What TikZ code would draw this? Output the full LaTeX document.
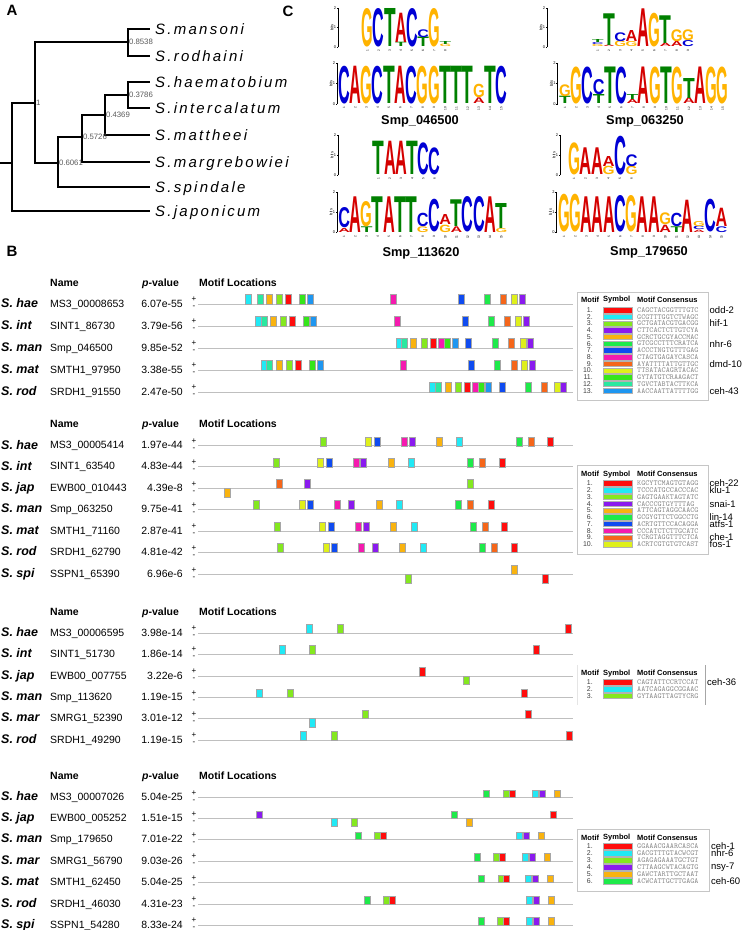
\documentclass[tikz,border=0pt]{standalone}
\usepackage{fontspec}
\setmainfont{Liberation Sans}
\usepackage{graphicx}
\usepackage{xcolor}
\usepackage{tikz}

% motif colours
\definecolor{m1}{HTML}{FF0D0D}
\definecolor{m2}{HTML}{21E9F5}
\definecolor{m3}{HTML}{84E81F}
\definecolor{m4}{HTML}{8A1AEE}
\definecolor{m5}{HTML}{F9B30F}
\definecolor{m6}{HTML}{1EEA4A}
\definecolor{m7}{HTML}{0F4BF0}
\definecolor{m8}{HTML}{F51AAF}
\definecolor{m9}{HTML}{F5661A}
\definecolor{m10}{HTML}{DFF01A}
\definecolor{m11}{HTML}{35E61A}
\definecolor{m12}{HTML}{2AE8A0}
\definecolor{m13}{HTML}{1E96F0}
% logo letters
\definecolor{ltA}{HTML}{D40000}
\definecolor{ltC}{HTML}{0000D4}
\definecolor{ltG}{HTML}{FFB300}
\definecolor{ltT}{HTML}{008000}

\newcount\nodeno

\tikzset{
  panel/.style={inner sep=0, font=\fontsize{15}{16}\selectfont\bfseries},
  branch/.style={line width=1.7pt},
  leaf/.style={anchor=west, inner xsep=5pt, inner ysep=0, text height=10.7pt, text depth=0pt,
    font=\fontsize{15}{17}\selectfont\itshape\addfontfeature{LetterSpace=15}},
  bv/.style={anchor=west, inner sep=0.8pt, font=\fontsize{7.8}{8}\selectfont, text=black!65},
  glyph/.style={anchor=south west, inner sep=0, font=\bfseries},
  lax/.style={line width=0.4pt},
  ltk/.style={anchor=east, inner sep=0, font=\fontsize{4}{4}\selectfont},
  lbt/.style={rotate=90, inner sep=0, font=\fontsize{4}{4}\selectfont},
  lps/.style={rotate=90, anchor=east, inner sep=0, font=\fontsize{3.2}{4}\selectfont},
  lname/.style={inner sep=0, font=\fontsize{12.8}{14}\selectfont\bfseries},
  hdr/.style={anchor=base west, inner sep=0, font=\fontsize{10.5}{12}\selectfont\bfseries},
  spc/.style={anchor=base west, inner sep=0, font=\fontsize{12.5}{14}\selectfont\bfseries\itshape},
  gen/.style={anchor=base west, inner sep=0, font=\fontsize{10.5}{12}\selectfont},
  pvl/.style={anchor=base east, inner sep=0, font=\fontsize{10.5}{12}\selectfont},
  strand/.style={inner sep=0, font=\fontsize{8}{9}\selectfont},
  seqline/.style={draw=gray!50, line width=0.9pt},
  site/.style={draw=black!35, line width=0.4pt},
  lframe/.style={draw=gray!45, line width=0.9pt},
  lhdr/.style={anchor=west, inner sep=0, font=\fontsize{7.5}{8}\selectfont\bfseries},
  lnum/.style={anchor=east, inner sep=0, font=\fontsize{7}{7}\selectfont, text=black!75},
  lbar/.style={draw=gray!60, line width=0.4pt},
  lcons/.style={anchor=west, inner sep=0, font=\fontsize{7.7}{8}\ttfamily, text=black!45},
  tf/.style={anchor=west, inner sep=0, font=\fontsize{9.5}{10}\selectfont}
}

% one logo letter: column, bottom y, height, letter
\newcommand{\lglyph}[4]{%
  \global\advance\nodeno by 1
  \node[glyph, name=lg\the\nodeno] at ({\lx+(#1-1)*\lc-0.4},{#2})
    {\resizebox{\lw pt}{#3pt}{\color{lt#4}#4}};}
\newcommand{\lone}[3]{\lglyph{#1}{\lb}{#2}{#3}}
\newcommand{\ltwo}[5]{\lglyph{#1}{\lb}{#2}{#3}\lglyph{#1}{\lb-#2}{#4}{#5}}
\newcommand{\lthree}[7]{\lglyph{#1}{\lb}{#2}{#3}\lglyph{#1}{\lb-#2}{#4}{#5}\lglyph{#1}{\lb-#2-#4}{#6}{#7}}

% logo axis: tag, axis x, base y, top y, columns
\newcommand{\logoaxis}[5]{%
  \draw[lax] (#2,#3) -- (#2,#4);
  \foreach \t in {0,1,2} {
    \draw[lax] (#2,{#3+(#4-#3)*\t/2}) -- ++(-1.2,0);
    \node[ltk, name=tk#1\t] at (#2-1.6,{#3+(#4-#3)*\t/2}) {\t};
  }
  \node[lbt, name=bt#1] at (#2-6,{(#3+#4)/2}) {bits};
  \foreach \i in {1,...,#5}
    \node[lps, name=ps#1\i] at ({\lx+(\i-0.5)*\lc},#3+2.8) {\i};
}

% block header: tag, y
\newcommand{\blockhead}[2]{%
  \node[hdr] (hn#1) at (50,#2+3.5) {Name};
  \node[hdr] (hp#1) at (142,#2+3.5) {\itshape p\upshape -value};
  \node[hdr] (hm#1) at (199,#2+3.5) {Motif Locations};}

% sequence row: tag, line y, species, gene, p-value
\newcommand{\seqrow}[5]{%
  \node[spc] (s#1) at (1,#2+3.4) {#3};
  \node[gen] (g#1) at (50,#2+3) {#4};
  \node[pvl] (p#1) at (183,#2+3) {#5};
  \node[strand] (u#1) at (194,#2-4.5) {+};
  \node[strand] (d#1) at (194,#2+3.5) {-};
  \draw[seqline] (198,#2) -- (573,#2);}

\newcommand{\sitesup}[2]{\foreach \x/\m in {#2}
  \filldraw[site, fill=m\m] (\x-3,#1) rectangle (\x+3,#1-\bh);}
\newcommand{\sitesdn}[2]{\foreach \x/\m in {#2}
  \filldraw[site, fill=m\m] (\x-3,#1) rectangle (\x+3,#1+\bh);}

% legend: tag, y
\newcommand{\legendhead}[2]{%
  \node[lhdr] (lm#1) at (581,#2) {Motif};
  \node[lhdr] (ls#1) at (603,#2) {Symbol};
  \node[lhdr] (lk#1) at (637,#2) {Motif Consensus};}
% legend rows: tag, first y, step, consensus list
\newcommand{\legendrows}[4]{%
  \foreach \c [count=\i] in {#4} {
    \node[lnum, name=ln#1\i] at (593,{#2+(\i-1)*#3}) {\i.};
    \filldraw[lbar, fill=m\i] (603,{#2+(\i-1)*#3-2.7}) rectangle (632,{#2+(\i-1)*#3+2.7});
    \node[lcons, name=lc#1\i] at (637,{#2+(\i-1)*#3}) {\c};
  }}

\begin{document}
\begin{tikzpicture}[x=1pt,y=-1pt]
\useasboundingbox (0,0) rectangle (742,930);

% panel letters
\node[panel] (pA) at (12,10) {A};
\node[panel] (pC) at (288,11) {C};
\node[panel] (pB) at (12,251) {B};

% tree
\coordinate (stub) at (0,163);
\coordinate (root) at (12,163);
\coordinate (n1) at (35,103);
\coordinate (n8538) at (128,42);
\coordinate (n6061) at (58,163);
\coordinate (n5726) at (82,137);
\coordinate (n4369) at (105,115);
\coordinate (n3786) at (128,95);
\node[leaf] (man) at (150,29) {S.mansoni};
\node[leaf] (rod) at (150,56) {S.rodhaini};
\node[leaf] (hae) at (150,82) {S.haematobium};
\node[leaf] (int) at (150,108) {S.intercalatum};
\node[leaf] (mat) at (150,135) {S.mattheei};
\node[leaf] (mar) at (150,162) {S.margrebowiei};
\node[leaf] (spi) at (150,187) {S.spindale};
\node[leaf] (jap) at (150,211) {S.japonicum};
\draw[branch] (stub) -- (root);
\draw[branch] (root) |- (n1);
\draw[branch] (root) |- (jap.west);
\draw[branch] (n1) |- (n8538);
\draw[branch] (n1) |- (n6061);
\draw[branch] (n8538) |- (man.west);
\draw[branch] (n8538) |- (rod.west);
\draw[branch] (n6061) |- (n5726);
\draw[branch] (n6061) |- (spi.west);
\draw[branch] (n5726) |- (n4369);
\draw[branch] (n5726) |- (mar.west);
\draw[branch] (n4369) |- (n3786);
\draw[branch] (n4369) |- (mat.west);
\draw[branch] (n3786) |- (hae.west);
\draw[branch] (n3786) |- (int.west);
\node[bv] (v1) at (n1) {1};
\node[bv] (v8538) at (n8538) {0.8538};
\node[bv] (v6061) at (n6061) {0.6061};
\node[bv] (v5726) at (n5726) {0.5726};
\node[bv] (v4369) at (n4369) {0.4369};
\node[bv] (v3786) at (n3786) {0.3786};

% logos, Smp_046500
\def\lx{362}\def\lc{11.1}\def\lw{11.6}\def\lb{47}
\logoaxis{a}{338}{47}{8}{8}
\lone{1}{38}{G} \lone{2}{38}{C} \lone{3}{38}{T} \ltwo{4}{4.3}{T}{29.3}{A}
\lone{5}{38}{C} \ltwo{6}{9.5}{T}{7.7}{C} \lone{7}{38}{G} \ltwo{8}{2.5}{G}{3}{T}
\def\lx{338.5}\def\lc{11.23}\def\lw{11.7}\def\lb{104}
\logoaxis{b}{337}{104}{63}{15}
\lone{1}{37.3}{C} \lone{2}{37.3}{A} \lone{3}{37.3}{G} \lone{4}{37.3}{C}
\lone{5}{37.3}{T} \lone{6}{37.3}{A} \lone{7}{37.3}{C} \lone{8}{37.3}{G}
\lone{9}{37.3}{G} \lone{10}{37.3}{T} \lone{11}{37.3}{T} \lone{12}{37.3}{T}
\ltwo{13}{5.7}{A}{13.3}{G} \lone{14}{37.3}{T} \lone{15}{37.3}{C}
\node[lname] (smp1) at (420,121) {Smp\_046500};

% logos, Smp_063250
\def\lx{592}\def\lc{11.3}\def\lw{11.8}\def\lb{47}
\logoaxis{c}{547}{47}{8}{9}
\lthree{1}{2}{G}{2}{C}{3}{T} \ltwo{2}{1.5}{A}{31.7}{T} \ltwo{3}{5.5}{G}{8.7}{C}
\ltwo{4}{5}{G}{11}{A} \lone{5}{37.7}{A} \lone{6}{33.3}{G} \ltwo{7}{3.3}{A}{27.7}{T}
\ltwo{8}{5}{A}{11.7}{G} \ltwo{9}{6}{C}{10.7}{G}
\def\lx{559.3}\def\lc{11.27}\def\lw{11.7}\def\lb{104}
\logoaxis{d}{557.5}{104}{63}{15}
\ltwo{1}{7.3}{T}{11.7}{G} \lone{2}{36.5}{G} \lone{3}{36.5}{C} \ltwo{4}{9}{T}{15}{C}
\lone{5}{36.5}{T} \lone{6}{36.5}{C} \ltwo{7}{4}{A}{5}{T} \lone{8}{36.5}{A}
\lone{9}{36.5}{G} \lone{10}{36.5}{T} \lone{11}{36.5}{G} \ltwo{12}{5.7}{A}{20}{T}
\lone{13}{36.5}{A} \lone{14}{36.5}{G} \lone{15}{36.5}{G}
\node[lname] (smp2) at (645,121) {Smp\_063250};

% logos, Smp_113620
\def\lx{373}\def\lc{11.2}\def\lw{11.7}\def\lb{175}
\logoaxis{e}{338}{175}{135}{6}
\lone{1}{33.3}{T} \lone{2}{33.3}{A} \lone{3}{33.3}{A} \lone{4}{33.3}{T}
\lone{5}{31.7}{C} \lone{6}{26.7}{C}
\def\lx{338.5}\def\lc{11.23}\def\lw{11.7}\def\lb{232.3}
\logoaxis{f}{337}{232.3}{191.7}{15}
\ltwo{1}{4}{A}{20}{C} \lone{2}{35.7}{A} \ltwo{3}{5.7}{T}{25}{G} \lone{4}{35.7}{T}
\lone{5}{35.7}{A} \lone{6}{35.7}{T} \lone{7}{35.7}{T} \ltwo{8}{5.7}{G}{13.3}{C}
\lone{9}{32.3}{C} \ltwo{10}{7.3}{G}{10}{A} \ltwo{11}{5.7}{A}{26.7}{T}
\lone{12}{35}{C} \lone{13}{35}{C} \lone{14}{35.7}{A} \ltwo{15}{4}{G}{25}{T}
\node[lname] (smp3) at (421,253) {Smp\_113620};

% logos, Smp_179650
\def\lx{568.3}\def\lc{11.5}\def\lw{12}\def\lb{175}
\logoaxis{g}{560}{175}{135}{6}
\lone{1}{31.7}{G} \lone{2}{26.7}{A} \lone{3}{26.7}{A} \ltwo{4}{8.3}{G}{10}{A}
\lone{5}{38.3}{C} \ltwo{6}{8.3}{G}{11.7}{C}
\def\lx{558.3}\def\lc{11.25}\def\lw{11.7}\def\lb{232.3}
\logoaxis{h}{556.5}{232.3}{191.7}{15}
\lone{1}{37.3}{G} \lone{2}{37.3}{G} \lone{3}{35.7}{A} \lone{4}{35.7}{A}
\lone{5}{35.7}{A} \lone{6}{36}{C} \lone{7}{36}{G} \lone{8}{35.7}{A}
\lone{9}{35.7}{A} \ltwo{10}{7.3}{A}{11.7}{G} \ltwo{11}{5.7}{T}{13.3}{C}
\lone{12}{32.3}{A} \lthree{13}{2.3}{A}{3.3}{C}{5}{G} \lone{14}{32.3}{C}
\ltwo{15}{5.7}{C}{18.3}{A}
\node[lname] (smp4) at (649,252) {Smp\_179650};

% block 1
\blockhead{a}{283}
\seqrow{a1}{304}{S. hae}{MS3\_00008653}{6.07e-55}
\seqrow{a2}{326}{S. int}{SINT1\_86730}{3.79e-56}
\seqrow{a3}{348}{S. man}{Smp\_046500}{9.85e-52}
\seqrow{a4}{370}{S. mat}{SMTH1\_97950}{3.38e-55}
\seqrow{a5}{392}{S. rod}{SRDH1\_91550}{2.47e-50}
\def\bh{9.5}
\sitesup{304}{248/2,260/12,269/5,279/3,288/1,302/11,310/13,393/8,461/7,487/6,503/9,514/10,522/4}
\sitesup{326}{258/2,264/12,273/5,283/3,292/1,306/11,313/13,397/8,465/7,491/6,507/9,518/10,526/4}
\sitesup{348}{399/2,404/12,413/5,424/3,433/1,441/8,447/11,455/13,468/7,495/6,511/9,523/10,530/4}
\sitesup{370}{264/2,269/12,279/5,289/3,298/1,312/11,320/13,403/8,471/7,497/6,514/9,524/10,532/4}
\sitesup{392}{432/2,438/12,448/5,458/3,467/1,475/8,481/11,488/13,502/7,528/6,544/9,557/10,563/4}
\draw[lframe] (577,292) rectangle (708,400);
\legendhead{a}{300}
\legendrows{a}{310}{6.72}{CAGCTACGGTTTGTC,GCGTTTGGTCTWAGC,GCTGATACGTGACGG,CTTCACTCTTGTCYA,GCRCTGCGYACCMAC,GTCGCCTTTCRATCA,ACCCTNGTGTTTGAG,CTAGTGAGAYCASCA,AYATTTTATTGTTGC,TTSATACAGRTACAC,GYTATGTCRAAGACT,TGVCTABTACTTKCA,AACCAATTATTTTGG}
\node[tf] (odd2) at (709.5,310) {odd-2};
\node[tf] (hif1) at (709.5,323.4) {hif-1};
\node[tf] (nhr6a) at (709.5,343.6) {nhr-6};
\node[tf] (dmd10) at (709.5,363.8) {dmd-10};
\node[tf] (ceh43) at (709.5,390.6) {ceh-43};

% block 2
\blockhead{b}{424}
\seqrow{b1}{445.7}{S. hae}{MS3\_00005414}{1.97e-44}
\seqrow{b2}{466.7}{S. int}{SINT1\_63540}{4.83e-44}
\seqrow{b3}{488.3}{S. jap}{EWB00\_010443}{4.39e-8}
\seqrow{b4}{509.3}{S. man}{Smp\_063250}{9.75e-41}
\seqrow{b5}{531}{S. mat}{SMTH1\_71160}{2.87e-41}
\seqrow{b6}{552.3}{S. rod}{SRDH1\_62790}{4.81e-42}
\seqrow{b7}{574.3}{S. spi}{SSPN1\_65390}{6.96e-6}
\def\bh{9}
\sitesup{445.7}{323/3,368/10,377/7,404/8,412/4,439/5,459/2,519/6,531/9,550/1}
\sitesup{466.7}{276/3,320/10,329/7,356/8,363/4,391/5,411/2,470/6,482/9,502/1}
\sitesup{488.3}{279/9,307/4,470/3}
\sitesdn{488.3}{227/5}
\sitesup{509.3}{256/3,302/10,310/7,337/8,351/4,379/5,399/2,458/6,470/9,491/1}
\sitesup{531}{277/3,322/10,331/7,358/8,366/4,393/5,414/2,473/6,485/9,504/1}
\sitesup{552.3}{280/3,326/10,334/7,361/8,375/4,402/5,423/2,482/6,494/9,514/1}
\sitesup{574.3}{514/5}
\sitesdn{574.3}{408/3,545/1}
\draw[lframe] (577,465) rectangle (708,554);
\legendhead{b}{474.3}
\legendrows{b}{483.3}{6.78}{KGCYTCMAGTGTAGG,TCCCATGCCACCCAC,GAGTGAAKTAGTATC,CACCCGTGYTTTAG,ATTCAGTAGGCAACG,GCGYGTTCTGGCCTG,ACRTGTTCCACAGGA,CCCATCTCTTGCATC,TCRGTAGGTTTCTCA,ACRTCGTGTGTCAST}
\node[tf] (ceh22) at (709.5,483.3) {ceh-22};
\node[tf] (klu1) at (709.5,490.1) {klu-1};
\node[tf] (snai1) at (709.5,503.6) {snai-1};
\node[tf] (lin14) at (709.5,517.2) {lin-14};
\node[tf] (atfs1) at (709.5,524) {atfs-1};
\node[tf] (che1) at (709.5,537.5) {che-1};
\node[tf] (fos1) at (709.5,544.3) {fos-1};

% block 3
\blockhead{c}{612.3}
\seqrow{c1}{633}{S. hae}{MS3\_00006595}{3.98e-14}
\seqrow{c2}{654}{S. int}{SINT1\_51730}{1.86e-14}
\seqrow{c3}{676}{S. jap}{EWB00\_007755}{3.22e-6}
\seqrow{c4}{697.3}{S. man}{Smp\_113620}{1.19e-15}
\seqrow{c5}{718.5}{S. mar}{SMRG1\_52390}{3.01e-12}
\seqrow{c6}{740}{S. rod}{SRDH1\_49290}{1.19e-15}
\def\bh{8.5}
\sitesup{633}{309/2,340/3,568/1}
\sitesup{654}{282/2,312/3,536/1}
\sitesup{676}{422/1}
\sitesdn{676}{466/3}
\sitesup{697.3}{259/2,290/3,524/1}
\sitesup{718.5}{365/3,528/1}
\sitesdn{718.5}{312/2}
\sitesup{740}{303/2,334/3,569/1}
\draw[gray!20, line width=0.6pt] (577,665) -- (577,705);
\draw[gray!70, line width=0.8pt] (705,665) -- (705,705);
\legendhead{c}{673.3}
\legendrows{c}{682.3}{6.7}{CAGTATTCCRTCCAT,AATCAGAGGCGGAAC,GYTAAGTTAGTYCRG}
\node[tf] (ceh36) at (707,682.3) {ceh-36};

% block 4
\blockhead{d}{775.7}
\seqrow{d1}{797.3}{S. hae}{MS3\_00007026}{5.04e-25}
\seqrow{d2}{818.3}{S. jap}{EWB00\_005252}{1.51e-15}
\seqrow{d3}{839.3}{S. man}{Smp\_179650}{7.01e-22}
\seqrow{d4}{861}{S. mar}{SMRG1\_56790}{9.03e-26}
\seqrow{d5}{882.3}{S. mat}{SMTH1\_62450}{5.04e-25}
\seqrow{d6}{904}{S. rod}{SRDH1\_46030}{4.31e-23}
\seqrow{d7}{925}{S. spi}{SSPN1\_54280}{8.33e-24}
\def\bh{7.5}
\sitesup{797.3}{486/6,506/3,512/1,535/2,542/4,557/5}
\sitesup{818.3}{259/4,454/6,553/1}
\sitesdn{818.3}{334/2,354/3,469/5}
\sitesup{839.3}{358/6,377/3,383/1,519/2,526/4,541/5}
\sitesup{861}{477/6,496/3,502/1,525/2,532/4,547/5}
\sitesup{882.3}{481/6,501/3,506/1,528/2,535/4,550/5}
\sitesup{904}{367/6,386/3,392/1,529/2,536/4,551/5}
\sitesup{925}{481/6,500/3,506/1,529/2,536/4,551/5}
\draw[lframe] (577,829) rectangle (709,891);
\legendhead{d}{837.7}
\legendrows{d}{846}{7}{GGAAACGAARCASCA,GACGTTTGTACWCGT,AGAGAGAAATGCTGT,CTTAAGCWTACAGTG,GAWCTARTTGCTAAT,ACWCATTGCTTGAGA}
\node[tf] (ceh1) at (711,846) {ceh-1};
\node[tf] (nhr6d) at (711,853) {nhr-6};
\node[tf] (nsy7) at (711,867) {nsy-7};
\node[tf] (ceh60) at (711,881) {ceh-60};
\end{tikzpicture}
\end{document}
